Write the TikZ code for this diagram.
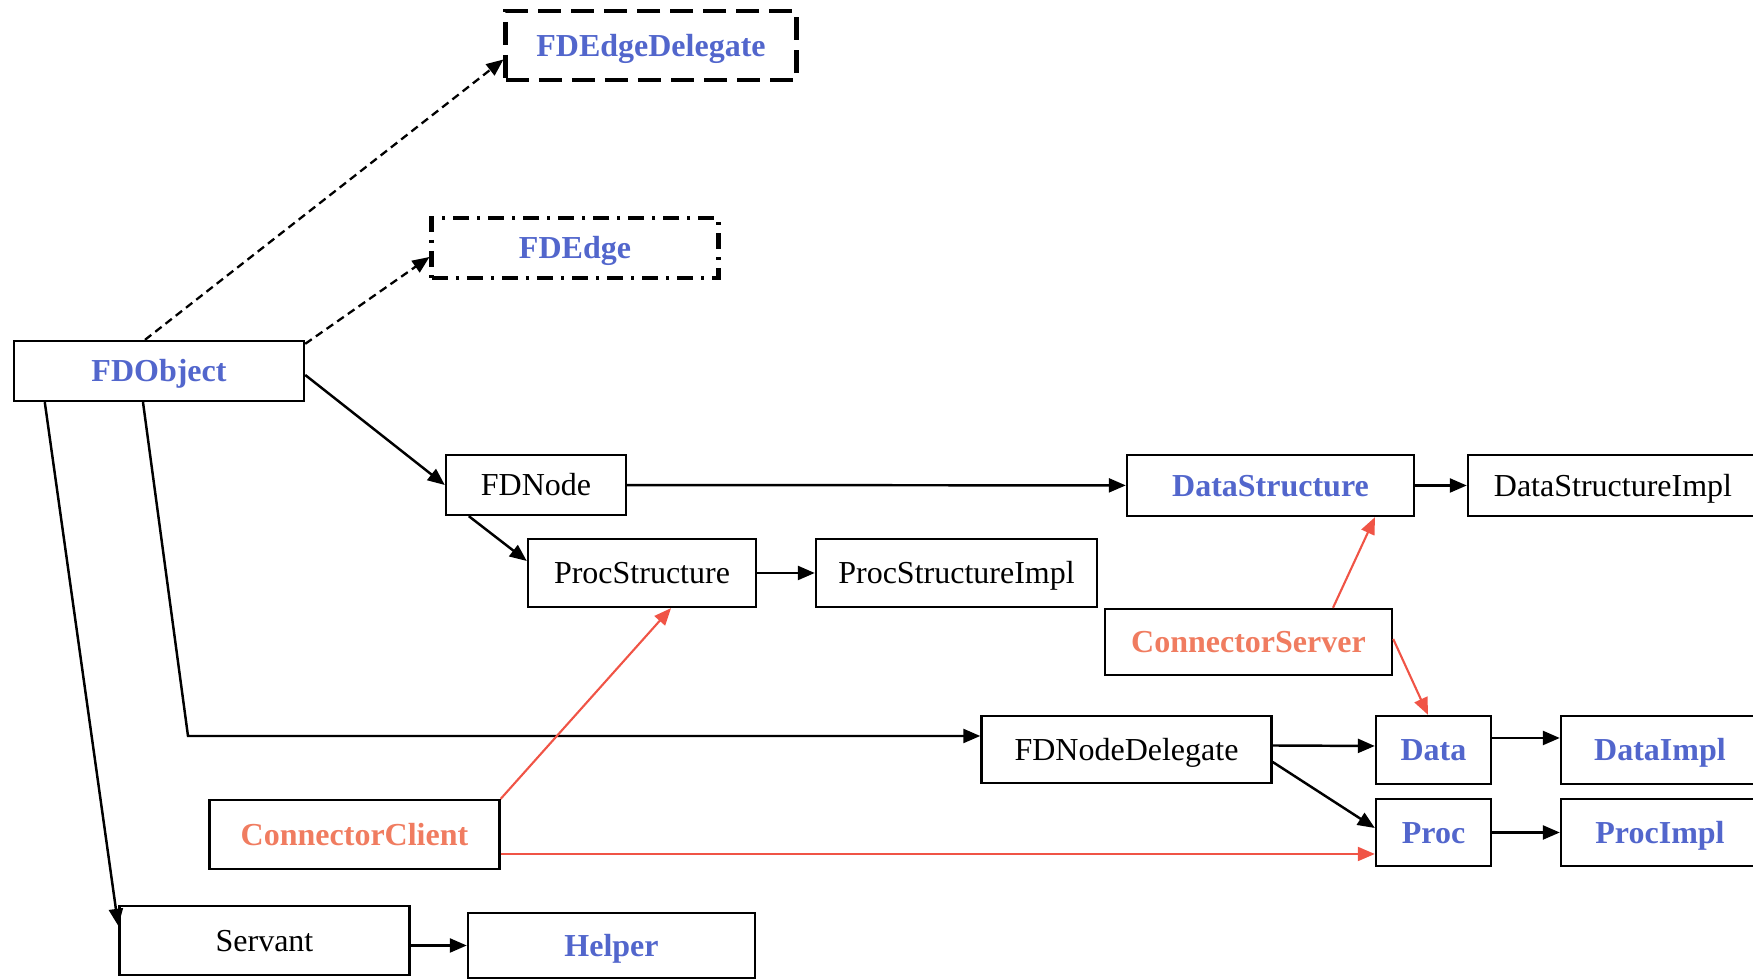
\documentclass[tikz,border=0pt]{standalone}
\usepackage{fontspec}
\setmainfont{Liberation Serif}
\usetikzlibrary{arrows.meta,calc}
\definecolor{clsblue}{RGB}{82,102,204}
\definecolor{clsorange}{RGB}{240,124,96}
\definecolor{linkred}{RGB}{240,84,70}
\tikzset{
  classbox/.style = {rectangle, draw=black, line width=0.65pt, inner sep=0pt,
    minimum width=2.9cm, minimum height=0.6cm, text height=6pt, text depth=0pt,
    font=\fontsize{9.1}{11}\selectfont},
  cls_k/.style = {classbox, text=black},% class, plain text
  cls_b/.style = {classbox, text=clsblue,
    font=\fontsize{9.1}{11}\selectfont\bfseries},% interface, blue
  cls_o/.style = {classbox, text=clsorange,
    font=\fontsize{9.1}{11}\selectfont\bfseries},% connector, orange
  cls_dash/.style = {cls_b, line width=1.4pt,
    dash pattern=on 0.23cm off 0.1cm},% dashed frame
  cls_dot/.style = {cls_b, line width=1.4pt,
    dash pattern=on 0.16cm off 0.08cm on 0.03cm off 0.08cm},% dash-dot frame
  link/.style = {->, line width=0.7pt},
  link_r/.style = {->, draw=linkred, line width=0.6pt},
  link_d/.style = {->, line width=0.65pt, dash pattern=on 0.08cm off 0.05cm}
}
\begin{document}
\begin{tikzpicture}[>={Triangle[length=0.17cm,width=0.14cm]}, x=0.01cm, y=-0.01cm]
  \useasboundingbox (0,0) rectangle (1753,980);
  \clip (0,0) rectangle (1753,980);

  \node [cls_dash, minimum height=0.69cm] (fdedlg) at (651,45.5) {FDEdgeDelegate};
  \node [cls_dot, minimum width=2.86cm] (fdedge) at (575,248) {FDEdge};
  \node [cls_b] (fdobj) at (159,371) {FDObject};
  \node [cls_k, minimum width=1.8cm] (fdnode) at (536,485) {FDNode};
  \node [cls_k, minimum width=2.28cm, minimum height=0.68cm] (pstr) at (642,573) {ProcStructure};
  \node [cls_k, minimum width=2.81cm, minimum height=0.68cm] (pstrimpl) at (956.5,573) {ProcStructureImpl};
  \node [cls_b, minimum width=2.87cm, minimum height=0.61cm] (dstr) at (1270.5,485.5) {DataStructure};
  \node [cls_k, minimum height=0.61cm] (dstrimpl) at (1613,485.5) {DataStructureImpl};
  \node [cls_o, minimum width=2.87cm, minimum height=0.66cm] (csrv) at (1248.5,642) {ConnectorServer};
  \node [cls_k, minimum height=0.67cm] (fdndlg) at (1126.5,749.5) {FDNodeDelegate};
  \node [cls_b, minimum width=1.15cm, minimum height=0.68cm] (data) at (1433.5,750) {Data};
  \node [cls_b, minimum width=1.98cm, minimum height=0.68cm] (dimpl) at (1660,750) {DataImpl};
  \node [cls_b, minimum width=1.15cm, minimum height=0.67cm] (proc) at (1433.5,832.5) {Proc};
  \node [cls_b, minimum width=1.98cm, minimum height=0.67cm] (pimpl) at (1660,832.5) {ProcImpl};
  \node [cls_o, minimum height=0.69cm] (cclt) at (354.5,834.5) {ConnectorClient};
  \node [cls_k, minimum height=0.69cm] (srv) at (264.5,940.5) {Servant};
  \node [cls_b, minimum width=2.87cm, minimum height=0.65cm] (helper) at (611.5,945.5) {Helper};

  % straight links between neighbours
  \foreach \from/\to in {fdnode/dstr,pstr/pstrimpl,dstr/dstrimpl,proc/pimpl}
    \draw [link] (\from) -- (\to);

  \draw [link_d] ($(fdobj.north)+(-14,0)$) -- ($(fdedlg.west)+(0,14)$);
  \draw [link_d] ($(fdobj.north east)+(0,4)$) -- ($(fdedge.west)+(0,9)$);
  \draw [link] ($(fdobj.east)+(0,4)$) -- (fdnode.west);
  \coordinate (bend) at (188,736);
  \draw [link] ($(fdobj.south)+(-16,0)$) -- (bend) -- (bend -| fdndlg.west);
  \draw [link] ($(fdobj.south west)+(32,0)$) -- ($(srv.north west)+(0,21)$);
  \draw [link] ($(fdnode.south west)+(24,0)$) -- ($(pstr.west)+(0,-12)$);
  \draw [link] ($(fdndlg.east)+(0,-4)$) -- ($(data.west)+(0,-4)$);
  \draw [link] ($(data.east)+(0,-12)$) -- ($(dimpl.west)+(0,-12)$);
  \draw [link] ($(fdndlg.east)+(0,12.5)$) -- ($(proc.west)+(0,-4.5)$);
  \draw [link] (srv.east |- helper.west) -- (helper.west);

  % connector links
  \draw [link_r] ($(csrv.north)+(84.5,0)$) -- ($(dstr.south)+(104.5,0)$);
  \draw [link_r] ($(csrv.east)+(0,-3)$) -- ($(data.north)+(-5.5,0)$);
  \draw [link_r] (cclt.north east) -- ($(pstr.south)+(29,0)$);
  \draw [link_r] ($(cclt.east)+(0,19.5)$) -- ($(proc.west)+(0,21.5)$);
\end{tikzpicture}
\end{document}
